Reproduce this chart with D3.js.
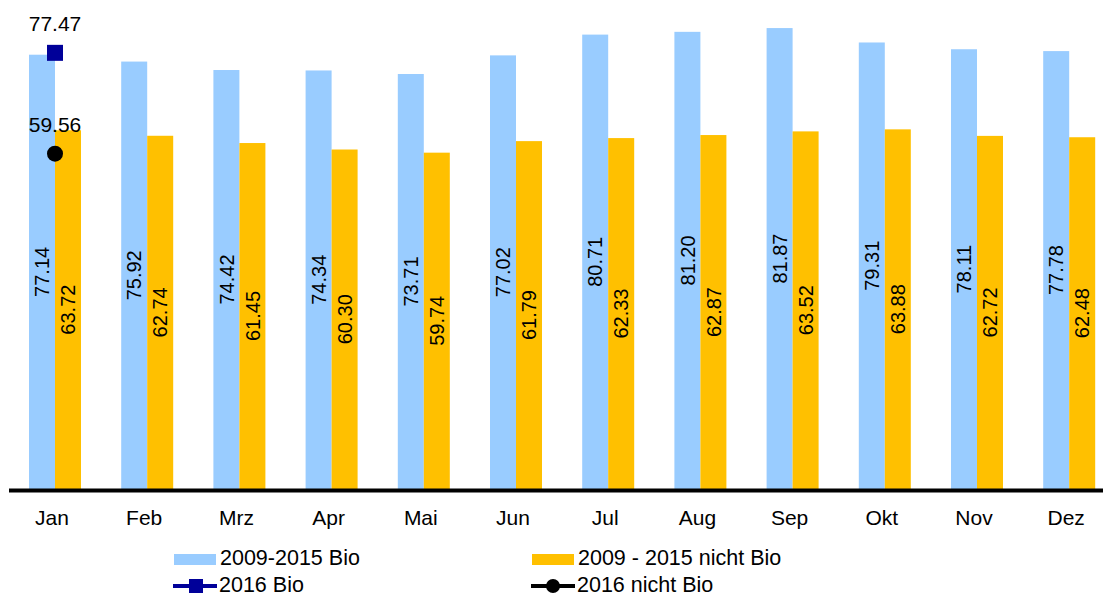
<!DOCTYPE html>
<html>
<head>
<meta charset="utf-8">
<script src="https://cdn.jsdelivr.net/npm/d3@7"></script>
<style>
  body { margin: 0; background: #fff; }
  svg { display: block; font-family: "Liberation Sans", Arial, sans-serif; }
</style>
</head>
<body>
<div id="chart"></div>
<script>
// chart data
const months = ["Jan", "Feb", "Mrz", "Apr", "Mai", "Jun", "Jul", "Aug", "Sep", "Okt", "Nov", "Dez"]
const bio_2009_2015 = [77.14, 75.92, 74.42, 74.34, 73.71, 77.02, 80.71, 81.20, 81.87, 79.31, 78.11, 77.78]
const nichtbio_2009_2015 = [63.72, 62.74, 61.45, 60.30, 59.74, 61.79, 62.33, 62.87, 63.52, 63.88, 62.72, 62.48]
const bio_2016 = [77.47]
const nichtbio_2016 = [59.56]
const series_names = ["2009-2015 Bio", "2009 - 2015 nicht Bio", "2016 Bio", "2016 nicht Bio"]

const width = 1103, height = 597
const baseline = 489

const colors = { bio: "#99CCFF", nicht: "#FFC000", bio16: "#000099", nicht16: "#000000" }

const svg = d3.select("#chart").append("svg")
    .attr("width", width)
    .attr("height", height)

// scales
const x0 = d3.scaleBand().domain(months).range([8.9, 1115.3]).paddingInner(0).paddingOuter(0)
const x1 = d3.scaleBand().domain(["bio", "nicht"]).range([0, x0.bandwidth()]).paddingInner(0).paddingOuter(0.773)
const y = d3.scaleLinear().domain([0, 80]).range([baseline, baseline - 80 * 5.63])

const rows = months.map((m, i) => ({ month: m, bio: bio_2009_2015[i], nicht: nichtbio_2009_2015[i] }))

// bars
const groups = svg.append("g").selectAll("g")
    .data(rows)
    .join("g")
    .attr("transform", d => "translate(" + x0(d.month) + ",0)")

;["bio", "nicht"].forEach(key => {
    groups.append("rect")
        .attr("x", x1(key))
        .attr("y", d => y(d[key]))
        .attr("width", x1.bandwidth())
        .attr("height", d => baseline - y(d[key]))
        .attr("fill", colors[key])

    // value labels, rotated, centred in each bar
    groups.append("text")
        .attr("transform", d => "translate(" + (x1(key) + x1.bandwidth() / 2) + "," + ((y(d[key]) + baseline) / 2) + ") rotate(-90)")
        .attr("text-anchor", "middle")
        .attr("dy", "0.36em")
        .attr("font-size", 20)
        .attr("fill", "#000")
        .text(d => d[key].toFixed(2))
})

// x axis
const xAxis = d3.axisBottom(x0).tickSize(0).tickPadding(0)
const ax = svg.append("g")
    .attr("transform", "translate(0," + (baseline + 1.5) + ")")
    .call(xAxis)
ax.select(".domain").attr("stroke", "#000").attr("stroke-width", 4)
    .attr("d", "M" + 9 + ",0H" + width)
ax.selectAll(".tick text")
    .attr("y", 0).attr("dy", 0)
    .attr("font-size", 21)
    .attr("font-family", "Liberation Sans, Arial, sans-serif")
    .attr("fill", "#000")
    .attr("transform", "translate(-3,34)")

// 2016 points (only January available)
const cx = m => x0(m) + x0.bandwidth() / 2
svg.append("g").selectAll("rect")
    .data(bio_2016)
    .join("rect")
    .attr("x", (d, i) => cx(months[i]) - 8)
    .attr("y", d => y(d) - 8)
    .attr("width", 16).attr("height", 16)
    .attr("fill", colors.bio16)
svg.append("g").selectAll("circle")
    .data(nichtbio_2016)
    .join("circle")
    .attr("cx", (d, i) => cx(months[i]))
    .attr("cy", d => y(d))
    .attr("r", 8)
    .attr("fill", colors.nicht16)

function point_label(values, offset) {
    svg.append("g").selectAll("text")
        .data(values)
        .join("text")
        .attr("x", (d, i) => cx(months[i]))
        .attr("y", d => y(d) + offset)
        .attr("text-anchor", "middle")
        .attr("font-size", 21)
        .attr("fill", "#000")
        .text(d => d.toFixed(2))
}
point_label(bio_2016, -22)
point_label(nichtbio_2016, -22)

// legend
const legend = svg.append("g")
const leg = [
    { name: series_names[0], x: 174, y: 559, type: "rect", color: colors.bio },
    { name: series_names[1], x: 532, y: 559, type: "rect", color: colors.nicht },
    { name: series_names[2], x: 173, y: 586, type: "square", color: colors.bio16 },
    { name: series_names[3], x: 531, y: 586, type: "circle", color: colors.nicht16 }
]
leg.forEach(l => {
    if (l.type == "rect") {
        legend.append("rect").attr("x", l.x).attr("y", l.y - 5).attr("width", 42).attr("height", 11).attr("fill", l.color)
    } else {
        legend.append("line").attr("x1", l.x).attr("x2", l.x + 44).attr("y1", l.y).attr("y2", l.y)
            .attr("stroke", l.color).attr("stroke-width", 4)
        if (l.type == "square") {
            legend.append("rect").attr("x", l.x + 16).attr("y", l.y - 7).attr("width", 14).attr("height", 14).attr("fill", l.color)
        } else {
            legend.append("circle").attr("cx", l.x + 22).attr("cy", l.y).attr("r", 7).attr("fill", l.color)
        }
    }
    legend.append("text")
        .attr("x", l.x + 46)
        .attr("y", l.y + 6)
        .attr("font-size", 21.5)
        .attr("fill", "#000")
        .text(l.name)
})
</script>
</body>
</html>
